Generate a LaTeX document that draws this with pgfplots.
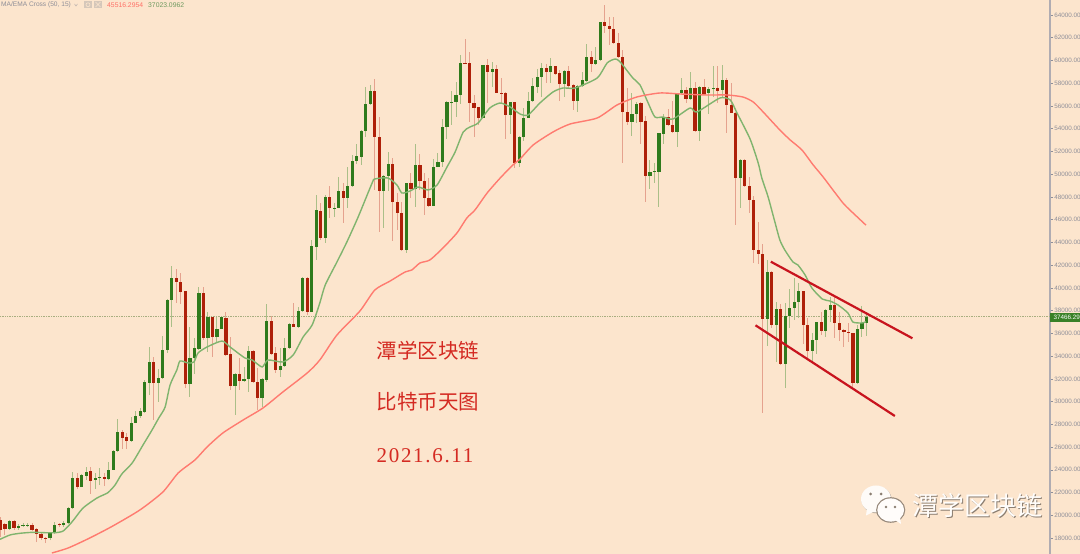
\documentclass[border=0pt]{standalone}
\usepackage{pgfplots}
\usepackage{pgfplotstable}
\pgfplotsset{compat=1.18}
\usepackage{fontspec}
\setmainfont{Liberation Sans}
\newfontfamily\cjk{Noto Sans CJK SC}
\newfontfamily\datefont[LetterSpace=8]{Liberation Serif}
\definecolor{bgc}{HTML}{FCE5CD}
\definecolor{bodyg}{HTML}{2F7A1C}
\definecolor{bodyr}{HTML}{AE2009}
\definecolor{wickg}{HTML}{AABF88}
\definecolor{wickr}{HTML}{E5A28E}
\definecolor{emag}{HTML}{80B46E}
\definecolor{mar}{HTML}{FF7B70}
\definecolor{trend}{HTML}{C8141E}
\definecolor{ticktxt}{HTML}{8E8E98}
\definecolor{axisc}{HTML}{B0ACB2}
\definecolor{dotc}{HTML}{A8AE80}
\definecolor{annot}{HTML}{D42A22}
\pgfplotstableread{
x h t b l
1 19586 19498 18795 18707
3 19234 19102 18883 18707
4 19322 19146 19058 18971
5 19322 19190 19102 18971
10 18531 18443 18003 17827
11 19410 19146 18443 18355
13 19498 19322 19146 18971
14 20729 20641 19322 19234
15 23808 23280 20641 20553
17 23632 23544 22488 22488
18 24248 23808 23456 23104
20 23720 23280 23104 22313
21 24160 23368 23280 22664
23 24687 23984 23192 23104
24 25742 25654 23984 23984
25 28469 27326 25654 25566
28 28645 28118 26534 26446
29 29173 28733 28118 28118
30 29436 29173 28733 28557
31 31899 31749 29112 28997
32 34802 33482 31662 30580
34 32867 32075 31662 29964
35 35769 34538 32075 31987
36 39023 38935 34538 34275
37 41925 40870 38935 36561
41 36561 33834 31547 30404
42 35593 34714 33834 32427
43 40079 39551 34626 34538
45 37880 37440 35593 34362
47 37440 36385 35681 35241
48 37528 37440 36385 36385
51 32515 32427 31371 28821
53 33043 31987 31811 31723
54 34890 34450 31987 30844
57 32075 31987 30316 29524
58 38584 37088 31899 31723
61 34714 33131 32779 32163
62 35593 34714 33131 33043
63 36912 36824 34714 34626
65 38320 37968 36561 36473
66 40958 40870 37968 37880
68 44212 43684 37880 37880
69 48170 46850 43597 42453
71 48170 47994 44388 43948
73 47466 47026 46982 46235
74 49753 48522 47026 47026
76 50633 48961 47906 47026
77 51688 51160 48961 48873
78 52655 51600 51160 50896
79 53887 53799 51512 50808
80 57668 56173 53799 53271
81 57844 57317 56173 56085
84 49929 49841 48522 45268
85 51952 50896 49841 48522
89 49225 49225 43333 43069
91 52655 50808 48698 47114
95 51336 50633 47202 47202
96 51864 51072 50633 50633
97 54854 54150 51072 50633
98 56437 56349 54150 53095
99 57317 56349 56261 54326
100 58108 56965 56349 55030
101 60483 59779 56965 56173
106 59603 59603 54942 54942
108 59867 59252 58988 57668
112 56349 56349 55206 53535
114 53359 53271 50984 50633
115 55821 54942 53271 52919
116 57229 56437 54942 54942
117 58460 57756 56437 56349
118 59252 58548 57668 57141
119 59779 59340 58548 56789
121 60219 59515 58988 58020
124 59163 59076 57932 56789
127 57844 57756 56437 55470
128 58988 58284 57756 57668
129 61450 60307 58196 58108
131 61186 60043 59691 59603
132 63385 63385 60043 59955
139 57141 55294 54590 53359
140 56349 56173 55294 54502
143 51248 50193 49841 48698
144 50984 50281 50193 49225
145 53623 53623 50193 47114
146 55294 55030 53535 52655
149 57141 57141 53711 52392
150 58460 57404 57141 57053
152 58988 57580 56613 56525
154 57756 57668 53799 52919
156 57668 57492 57141 55294
157 59515 57580 57536 56789
159 59603 58284 57404 56789
163 51336 51248 49665 47026
169 42453 41398 37264 34889
171 38759 38144 36736 33482
173 38671 37528 33306 31195
174 39902 38232 37528 36473
175 40870 38759 38232 37176
176 40431 39726 38759 37352
179 36033 35417 34450 33482
180 37000 37000 35417 34186
182 38144 38056 36209 35681
183 39199 38495 38056 37000
189 36736 36385 31635 31547
190 38408 36912 36385 35681
191 37880 37440 36912 35769
}\upc
\pgfplotstableread{
x h t b l
-1 19876 19586 18707 18091
0 19322 19234 18795 18267
2 19586 19498 18883 18707
6 19322 19190 18707 18619
7 18883 18795 18355 17651
8 18443 18355 18003 17827
9 18091 18003 17915 17563
12 19366 19234 19146 18971
16 23720 23280 22488 22313
19 24248 23896 23016 21873
22 23720 23368 23192 22576
26 27502 27326 26798 25830
27 27238 26886 26534 25830
33 33922 33482 31662 28381
38 41662 40870 40518 38671
39 41310 40518 39638 38584
40 39726 39726 31547 31195
44 40079 39551 35593 35417
46 37440 37440 35681 33922
49 37880 37352 34098 34010
50 35681 34186 31371 31020
52 33834 32427 31811 31020
55 34538 34450 31723 31635
56 32955 31723 30316 29260
59 37528 37088 34186 34098
60 34802 34275 32779 32515
64 38671 36824 36561 36561
67 40958 40870 37880 37616
70 47466 46762 44388 44212
72 48961 47994 47026 46147
75 49225 48522 47906 45707
82 58372 57317 53271 48610
83 55030 53271 48522 44916
86 51424 50896 47554 44124
87 48346 47554 46587 45092
88 47554 46587 43333 43245
90 50105 49225 48698 47906
92 51776 50808 49401 48610
93 50105 49401 47906 46411
94 49665 47906 47202 47114
102 61890 59779 59691 59691
103 60747 59779 56261 54590
104 56965 56261 55821 53271
105 55909 55909 54942 54326
107 60131 59603 58988 56261
109 59603 59252 57141 57141
110 58460 57141 57053 56261
111 57229 57141 55206 53095
113 56349 56349 50984 50545
120 59691 59340 58988 58020
122 59515 59515 58812 58724
123 59163 58900 57932 56437
125 59515 59076 57756 57580
126 57932 57844 56437 55646
130 60835 60307 59691 58988
133 64880 63385 63033 62418
134 63825 63033 62770 61362
135 63825 62770 61538 61450
136 62418 61538 60307 60219
137 60923 60307 55470 50984
138 57580 55470 54590 54326
141 56349 56261 54590 52655
142 55118 54678 49841 47554
147 55734 55030 54326 54238
148 56437 54326 53711 53623
151 57668 57404 56613 56261
153 58108 57580 53799 53711
155 58372 57668 57053 56965
158 59515 57580 57317 56261
160 58460 58284 56085 53623
161 58020 56085 55382 55382
162 55470 55382 49665 45531
164 51336 51248 48961 48873
165 49753 48961 47730 46587
166 48082 47730 43333 42189
167 45795 43333 42981 42101
168 43860 42981 37264 29000
170 41486 41398 36736 36473
172 38584 38144 33306 33218
177 39726 39726 36736 35065
178 37352 36736 34450 33834
181 37880 37000 36209 35857
184 39199 38495 36912 35593
185 37880 36912 36297 35329
186 36385 36297 36121 34802
187 36912 36121 36033 35241
188 36033 36033 31635 31195
}\downc
\pgfplotstableread{
x y
-1.1 17889
1.1 18267
3.3 18416
6.2 18504
8.9 18469
11.1 18469
12.9 18619
14.9 19437
17.3 20641
20.4 21521
22.8 21987
24.4 22664
25.9 23632
28.2 24599
30.6 26182
32.6 27502
34.1 28557
35.5 29524
36.6 31459
38.1 32779
38.8 33570
40.6 33394
41.9 33482
42.8 34275
44.8 34802
48.1 35329
49.9 34802
53.2 33834
54.8 33658
57.0 33043
58.3 33658
61.6 33482
63.9 34098
66.1 35681
68.1 36736
69.8 38671
71.0 40254
73.6 42277
75.8 44036
78.3 46235
81.4 49225
82.0 49577
84.9 49665
86.9 49050
88.0 48346
89.8 48522
91.6 48873
93.8 48610
95.8 49050
98.0 50633
99.8 51952
101.6 53711
103.1 54150
104.9 54502
107.5 55821
109.8 56261
112.0 55909
114.2 55294
116.0 55206
118.6 56261
121.5 57229
123.7 57580
126.4 57580
131.3 58460
133.5 59779
135.3 60131
136.4 59867
139.2 58460
140.8 57844
142.6 56261
144.1 55030
145.9 55030
148.1 54854
151.9 55821
153.4 55470
158.5 56701
160.8 56525
162.3 55382
165.2 53095
167.0 50984
167.8 49665
169.2 47994
170.7 45795
171.8 44212
172.9 43333
174.7 42277
175.8 42013
177.4 41134
178.9 39990
181.2 39023
182.9 38847
184.7 38495
186.9 37792
188.0 37000
190.0 36912
190.9 37023
}\emaline
\pgfplotstableread{
x y
10.4 16684
14.0 17124
18.8 18003
23.9 19059
29.9 20465
35.0 22048
38.4 23720
42.1 24863
44.8 26006
48.3 27238
52.8 28381
57.2 29436
61.6 30844
67.0 32515
69.8 33658
73.6 35857
78.7 37968
82.0 39815
85.4 40606
88.7 41398
90.2 41574
92.0 42189
94.2 42453
97.1 43509
100.2 44828
102.4 46147
104.2 46850
106.9 48346
109.8 49665
112.6 50808
114.2 51336
117.1 52567
121.5 53711
125.3 54414
131.3 54942
135.7 56085
140.1 56789
145.2 57141
149.7 57053
155.7 56965
160.1 56965
163.6 56789
165.9 56349
168.1 55470
171.8 53887
174.1 53007
176.7 52127
179.2 50808
181.4 49753
185.8 47466
188.5 46411
190.9 45516
}\maline
\begin{document}
\begin{tikzpicture}
\fill[bgc] (0,0) rectangle (1080pt,554pt);
\begin{axis}[
  at={(0,0)}, anchor=south west, scale only axis,
  width=1050pt, height=554pt,
  xmin=-1.108, xmax=231.7, ymin=16596, ymax=65320,
  axis x line=none,
  axis y line*=right,
  axis line style={draw=axisc, line width=1.4pt, -},
  ytick={18000,20000,22000,24000,26000,28000,30000,32000,34000,36000,38000,40000,42000,44000,46000,48000,50000,52000,54000,56000,58000,60000,62000,64000},
  scaled y ticks=false,
  tick align=outside, major tick length=2.5pt,
  tick style={draw=ticktxt, line width=0.6pt},
  yticklabel style={font=\fontsize{6.3}{7}\selectfont, text=ticktxt, anchor=west, xshift=-1.8pt,
    /pgf/number format/fixed, /pgf/number format/fixed zerofill, /pgf/number format/precision=2,
    /pgf/number format/1000 sep={}, /pgf/number format/assume math mode=true},
]
\addplot[dotc, densely dotted, line width=0.7pt] coordinates {(-1.108,37466) (231.7,37466)};
\addplot[draw=none, mark=none, error bars/.cd, y dir=plus, y explicit, error mark=none, error bar style={draw=wickg, line width=1pt}]
  table[x=x, y=l, y error expr=\thisrow{h}-\thisrow{l}] {\upc};
\addplot[draw=none, mark=none, error bars/.cd, y dir=plus, y explicit, error mark=none, error bar style={draw=wickr, line width=1pt}]
  table[x=x, y=l, y error expr=\thisrow{h}-\thisrow{l}] {\downc};
\addplot[draw=none, mark=none, error bars/.cd, y dir=plus, y explicit, error mark=none, error bar style={draw=bodyg, line width=3.2pt}]
  table[x=x, y=b, y error expr=\thisrow{t}-\thisrow{b}] {\upc};
\addplot[draw=none, mark=none, error bars/.cd, y dir=plus, y explicit, error mark=none, error bar style={draw=bodyr, line width=3.2pt}]
  table[x=x, y=b, y error expr=\thisrow{t}-\thisrow{b}] {\downc};
\addplot[emag, line width=1.4pt, smooth, tension=0.4] table[x=x,y=y] {\emaline};
\addplot[mar, line width=1.4pt, smooth, tension=0.4] table[x=x,y=y] {\maline};
\addplot[trend, line width=2.2pt] coordinates {(169.8,42304) (201.2,35567)};
\addplot[trend, line width=2.2pt] coordinates {(166.4,36710) (197.3,28733)};
\end{axis}
% price tag
\fill[bodyg!95!white] (1050pt,232pt) rectangle (1080pt,241pt);
\node[anchor=west, inner sep=0pt, text=white, font=\fontsize{6.3}{7}\selectfont] at (1053.5pt,236.5pt) {37466.29};
% legend row
\node[anchor=west, inner sep=0pt, text=ticktxt, font=\fontsize{6.6}{8}\selectfont] at (1pt,549pt) {MA/EMA Cross (50, 15)};
\node[anchor=west, inner sep=0pt, text=mar!90!red, font=\fontsize{6.8}{8}\selectfont] at (107pt,549pt) {45516.2954};
\node[anchor=west, inner sep=0pt, text=emag!85!black, font=\fontsize{6.8}{8}\selectfont] at (148pt,549pt) {37023.0962};
\draw[ticktxt!60!bgc, line width=0.5pt] (74.5pt,550pt) -- (76pt,548pt) -- (77.5pt,550pt);
\fill[ticktxt!35!bgc] (84pt,545.5pt) rectangle (92pt,553pt);
\fill[ticktxt!35!bgc] (94pt,545.5pt) rectangle (102pt,553pt);
\draw[bgc, line width=0.6pt] (95.5pt,547pt) -- (100.5pt,552pt) (95.5pt,552pt) -- (100.5pt,547pt);
\draw[bgc, line width=0.6pt] (88pt,549.2pt) circle (2pt);
% annotation text
\node[anchor=west, inner sep=0pt, text=annot, font=\fontsize{20.5}{22}\selectfont\cjk] at (376.5pt,203pt) {潭学区块链};
\node[anchor=west, inner sep=0pt, text=annot, font=\fontsize{20.5}{22}\selectfont\cjk] at (376.5pt,152pt) {比特币天图};
\node[anchor=west, inner sep=0pt, text=annot, font=\fontsize{21}{22}\selectfont\datefont] at (376.5pt,98pt) {2021.6.11};
% watermark
\fill[black!35!bgc, shift={(0.6pt,-0.8pt)}] (876pt,55pt) ellipse (15pt and 13.5pt);
\fill[white!85!bgc] (876pt,55pt) ellipse (15pt and 13.5pt);
\fill[white!85!bgc] (867pt,46pt) -- (866pt,38.5pt) -- (875pt,43pt) -- cycle;
\fill[black!40!bgc] (890.7pt,44pt) ellipse (14.6pt and 12.8pt);
\fill[white!90!bgc] (890.7pt,44pt) ellipse (13.4pt and 11.6pt);
\fill[white!90!bgc] (895pt,34pt) -- (901pt,30pt) -- (900pt,37pt) -- cycle;
\fill[black!45!bgc] (870.5pt,60pt) circle (1.5pt) (881pt,60pt) circle (1.5pt);
\fill[black!45!bgc] (886pt,47pt) circle (1.4pt) (895pt,47pt) circle (1.4pt);
\node[anchor=west, inner sep=0pt, text=black!45!bgc, font=\fontsize{26}{28}\selectfont\cjk] at (912.8pt,47.3pt) {潭学区块链};
\node[anchor=west, inner sep=0pt, text=white!92!bgc, font=\fontsize{26}{28}\selectfont\cjk] at (912pt,48pt) {潭学区块链};
\pgfresetboundingbox
\useasboundingbox (0,0) rectangle (1080pt,554pt);
\end{tikzpicture}
\end{document}
